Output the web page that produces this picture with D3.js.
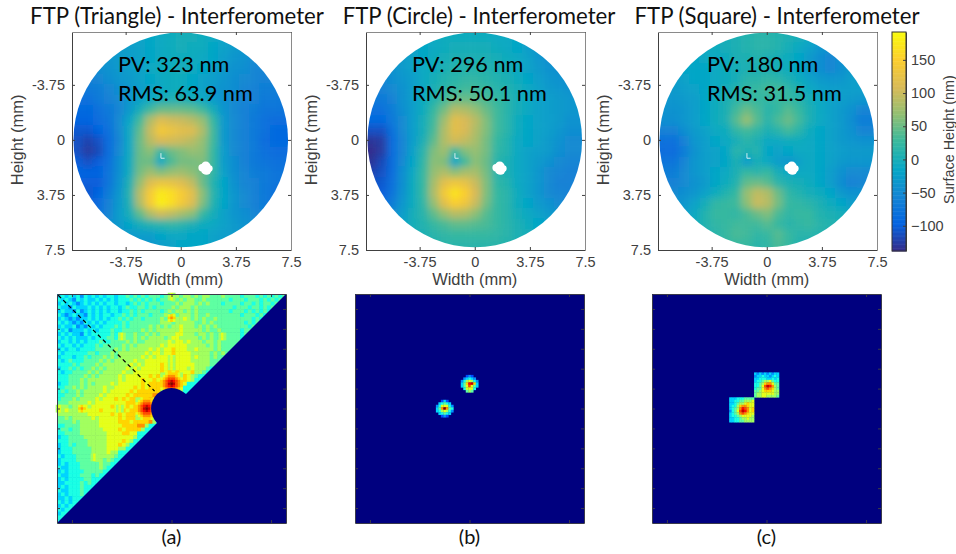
<!DOCTYPE html>
<html>
<head>
<meta charset="utf-8">
<script src="https://d3js.org/d3.v7.min.js"></script>
<style>
  body { margin: 0; background: #fff; }
  svg { display: block; }
</style>
</head>
<body>
<svg id="chart" width="956" height="554"></svg>
<script>
// surface height, nm, 21 x 21, top row first
var triangleHeights = [
  [-30,-30,-30,-30,-30,-25,-20,-15,-10,-5,0,0,-5,-10,-20,-25,-30,-35,-35,-35,-35],
  [-30,-30,-30,-30,-30,-25,-20,-15,-10,-5,0,-5,-5,-15,-20,-30,-35,-40,-45,-45,-45],
  [-35,-35,-35,-35,-30,-25,-20,-15,-10,-5,-5,-5,-10,-15,-25,-35,-40,-50,-50,-50,-50],
  [-50,-50,-45,-40,-30,-25,-20,-10,-5,-5,0,-5,-15,-20,-30,-40,-45,-55,-55,-55,-55],
  [-60,-60,-55,-45,-35,-30,-20,-15,-10,-5,-5,-15,-20,-25,-35,-45,-50,-55,-60,-60,-60],
  [-70,-70,-65,-55,-45,-35,-25,-20,-10,-5,-5,-15,-20,-30,-40,-45,-55,-60,-65,-65,-65],
  [-80,-80,-70,-60,-50,-35,-20,-10,0,5,5,0,-10,-25,-40,-50,-55,-60,-70,-70,-70],
  [-90,-90,-80,-70,-55,-30,0,30,50,50,50,45,30,0,-35,-50,-60,-65,-75,-75,-75],
  [-95,-95,-85,-75,-50,-15,30,85,115,105,100,90,70,25,-30,-50,-60,-70,-80,-85,-85],
  [-105,-105,-95,-80,-50,-10,45,100,140,130,120,115,85,30,-30,-50,-60,-70,-80,-90,-90],
  [-110,-120,-110,-85,-55,-10,50,90,110,105,100,90,70,30,-30,-50,-60,-70,-85,-90,-90],
  [-110,-125,-115,-85,-50,-10,50,65,20,50,60,70,65,25,-25,-50,-60,-70,-80,-85,-85],
  [-100,-110,-100,-80,-45,-5,50,50,-10,35,55,55,60,25,-25,-45,-60,-70,-75,-80,-80],
  [-95,-95,-95,-75,-45,-5,55,75,60,70,75,65,50,20,-20,-45,-55,-65,-70,-75,-75],
  [-100,-100,-100,-75,-40,5,70,115,130,125,115,95,50,10,-15,-40,-55,-60,-70,-75,-75],
  [-105,-105,-95,-65,-35,10,90,145,175,165,145,120,65,15,-15,-35,-50,-60,-70,-80,-80],
  [-100,-100,-85,-60,-30,5,85,145,180,165,140,115,60,10,-15,-35,-50,-60,-70,-75,-75],
  [-90,-90,-80,-55,-25,0,45,85,105,95,80,65,25,0,-20,-35,-45,-55,-60,-65,-65],
  [-75,-75,-60,-45,-30,-15,0,10,15,20,15,5,-5,-10,-20,-30,-40,-45,-50,-55,-55],
  [-60,-60,-50,-45,-35,-30,-25,-25,-15,-10,-10,-15,-15,-20,-25,-30,-35,-40,-45,-50,-50],
  [-40,-40,-40,-40,-40,-40,-35,-35,-25,-20,-15,-15,-15,-20,-25,-30,-35,-40,-40,-40,-40]
];
var circleHeights = [
  [-30,-30,-25,-20,-15,-10,-10,-5,-5,-5,-5,-5,-10,-10,-15,-25,-30,-35,-40,-40,-40],
  [-35,-35,-30,-25,-20,-15,-10,-5,0,0,0,0,-5,-10,-15,-25,-35,-45,-50,-50,-50],
  [-40,-40,-35,-30,-20,-15,-5,0,5,5,5,5,0,-5,-10,-20,-35,-45,-50,-50,-50],
  [-45,-45,-40,-30,-20,-10,-5,5,10,10,10,10,5,0,-10,-20,-30,-40,-45,-50,-50],
  [-55,-55,-45,-35,-25,-10,0,10,15,20,20,15,10,5,-5,-15,-25,-35,-40,-45,-45],
  [-60,-60,-50,-40,-25,-10,5,15,25,30,30,25,15,10,0,-10,-20,-30,-35,-40,-40],
  [-70,-70,-60,-40,-25,-5,10,30,50,50,45,35,25,15,0,-10,-20,-25,-30,-35,-35],
  [-80,-80,-65,-45,-25,-5,25,55,90,85,70,50,30,15,0,-10,-20,-25,-30,-35,-35],
  [-90,-90,-70,-50,-25,0,30,75,120,110,90,60,30,15,-5,-15,-20,-25,-30,-40,-40],
  [-110,-110,-80,-50,-25,0,35,85,120,110,85,60,30,15,-5,-15,-20,-25,-35,-45,-45],
  [-130,-125,-85,-55,-25,5,45,85,105,95,80,55,25,10,-10,-15,-20,-30,-40,-50,-50],
  [-135,-125,-85,-55,-20,15,60,75,25,60,70,55,20,10,-10,-20,-25,-30,-45,-50,-50],
  [-130,-115,-85,-50,-15,20,65,60,-15,30,65,50,15,5,-10,-20,-30,-40,-50,-55,-55],
  [-120,-110,-85,-45,-10,25,70,85,65,80,80,55,15,5,-10,-20,-35,-50,-55,-60,-60],
  [-110,-105,-80,-45,-5,25,80,120,135,125,100,60,20,10,-10,-20,-35,-50,-60,-60,-60],
  [-105,-100,-75,-40,-5,25,85,140,170,150,110,60,25,15,-5,-20,-35,-50,-55,-60,-60],
  [-95,-90,-65,-35,-5,20,70,120,150,135,100,55,25,15,-5,-15,-30,-40,-50,-55,-55],
  [-75,-70,-50,-25,0,15,45,70,90,85,65,40,25,15,0,-10,-20,-30,-35,-40,-40],
  [-55,-50,-35,-20,0,10,25,35,45,45,40,35,25,15,5,-5,-15,-20,-25,-30,-30],
  [-35,-35,-25,-15,0,5,15,20,25,25,25,25,20,15,5,0,-10,-15,-20,-25,-25],
  [-25,-25,-20,-10,0,5,10,15,15,15,15,15,15,10,5,0,-5,-10,-15,-20,-20]
];
var squareHeights = [
  [-10,-10,-10,-5,-5,0,0,5,10,15,15,10,5,0,-10,-20,-25,-30,-30,-30,-30],
  [-15,-15,-15,-10,-10,-5,0,5,10,15,15,10,0,-10,-20,-35,-40,-40,-35,-30,-30],
  [-15,-15,-15,-15,-10,-10,-5,5,5,10,5,0,-5,-15,-30,-45,-55,-45,-30,-25,-25],
  [-20,-20,-15,-15,-15,-10,-5,0,5,5,5,0,-5,-15,-30,-45,-55,-45,-30,-25,-25],
  [-25,-25,-20,-15,-15,-10,-5,0,15,15,20,15,5,-5,-20,-30,-35,-35,-25,-25,-25],
  [-30,-30,-25,-20,-15,-10,0,10,20,25,30,30,20,5,-10,-20,-25,-25,-25,-25,-25],
  [-35,-35,-30,-25,-15,-5,5,15,25,25,20,25,25,15,0,-10,-20,-25,-30,-35,-35],
  [-40,-40,-35,-25,-15,-5,5,30,50,35,15,25,40,25,5,-10,-20,-30,-40,-55,-55],
  [-45,-45,-35,-25,-15,-5,5,40,70,40,15,35,50,30,5,-10,-20,-30,-45,-65,-65],
  [-60,-60,-45,-30,-20,-10,-5,20,30,20,5,15,30,15,-5,-15,-20,-30,-40,-55,-55],
  [-80,-80,-60,-35,-25,-15,-10,0,15,5,-10,-10,-5,-5,-10,-15,-20,-30,-35,-40,-40],
  [-85,-85,-65,-40,-25,-20,-15,15,5,10,-15,-20,-15,-10,-10,-15,-20,-25,-30,-30,-30],
  [-75,-75,-55,-35,-25,-20,-15,5,-25,0,-10,-25,-35,-20,-10,-15,-20,-30,-35,-35,-35],
  [-65,-65,-50,-35,-25,-15,-10,5,25,15,25,0,-10,-10,-10,-15,-25,-40,-50,-50,-50],
  [-60,-60,-50,-40,-30,-15,-5,10,45,50,40,15,5,0,-5,-15,-25,-45,-60,-55,-50],
  [-50,-50,-45,-35,-20,-5,10,25,70,95,85,50,20,10,0,-5,-15,-30,-40,-40,-40],
  [-40,-40,-35,-20,0,20,25,30,65,100,90,55,25,20,15,5,-5,-15,-25,-30,-30],
  [-30,-30,-25,-10,10,25,25,20,35,50,60,35,20,25,25,10,5,0,-10,-15,-15],
  [-20,-20,-15,-5,10,20,25,30,30,30,40,25,15,20,25,15,10,5,-5,-10,-10],
  [-15,-15,-10,-5,5,15,25,35,30,20,25,40,25,15,15,10,5,0,-5,-10,-10],
  [-10,-10,-5,0,5,15,20,25,25,15,20,35,25,10,5,5,0,-5,-10,-10,-10]
];

var titles = ['FTP (Triangle) - Interferometer', 'FTP (Circle) - Interferometer', 'FTP (Square) - Interferometer'];
var pvLabels = ['PV: 323 nm', 'PV: 296 nm', 'PV: 180 nm'];
var rmsLabels = ['RMS: 63.9 nm', 'RMS: 50.1 nm', 'RMS: 31.5 nm'];
var captions = ['(a)', '(b)', '(c)'];
var mmTicks = [-3.75, 0, 3.75, 7.5];
var mmTickLabels = ['-3.75', '0', '3.75', '7.5'];
var colorTicks = [-100, -50, 0, 50, 100, 150];
var colorDomain = [-138, 192];
var parula = ['#352a87', '#0363e1', '#1485d4', '#06a7c6', '#38b99e', '#92bf73', '#d9ba56', '#fcce2e', '#f9fb0e'];

// missing patch on each map, mm: x, y, radius
var missingBlob = [
  [1.45, 1.9, 0.25], [1.7, 1.8, 0.33], [1.75, 2.05, 0.33], [1.95, 1.95, 0.22], [1.6, 2.1, 0.2]
];
// small white mark in the central dimple, mm
var dimpleMarkX = [-1.35, -1.35, -1.1];
var dimpleMarkY = [0.9, 1.25, 1.25];

// spectrum levels, 0-f on the jet map, one char per cell, 60 cells wide, top row first.
// the part under the diagonal is covered by the mask
var spectrumField = [
  '565656465656566566767676777677787887878877787777677767676767',
  '656546565565656566676767676777878788778777777677767776767677',
  '565654565656566566567676777677787888787877767777677676776767',
  '655465556565656656766776767777878887877777777767776776767666',
  '565546456565656656676767777678788787877777777677767676767666',
  '654565546565665667676777677787878887877877777777677767676666',
  '565454556565656676767767777878888987878778777777777676766666',
  '656545465656566667677777777888788888778787777777767676666666',
  '565564546565666767677777878787889888787878777777776766666666',
  '656455565656667667777787878888889888887877877777677666666666',
  '565655465666667677778778787888899888788787777777676666666666',
  '656565556566677677778787888878998888878787777777666666666666',
  '566565656667667777878778888889899898887887877777666666666666',
  '656656566676777778787888888989999988888787877776666666666666',
  '565665666677777878788888989899a99988988887877776666666666666',
  '656666667767778788888889899899a99998888878787666666666666666',
  '566656676777878788888898989999a99998988878776666666666666666',
  '656766677778787888889889999999a99998888877766666666666666666',
  '666676777787888888898989999a9aa99999888877666666666666666666',
  '566767677878788888989899999a9aa99989888766666666666666666666',
  '656677778787888889889999999a9a9a999a887666666666666666666666',
  '666777787878888898999999a9a9aaaa9a98766666666666666666666',
  '6667778788888888989999a99a9aaaaaaa986666666666666666',
  '5667778787888898999999a9aaaaaaaaa96666666666666',
  '66778787888898899999a9a9aaaabaaa966666666666',
  '6767787888889899999a9aaaaaabbaa8666666666',
  '667778788889899999a9aaaaabbbba86666666',
  '677787888898999a9a9aaaaabbbba96666666',
  '777888889899999999aaaaaabbbb986666666',
  '88878889899999a9a9a9aaaabbbbb86666666',
  '98988889999a99999a9aaaaabbbbb86666666',
  '88888888999999a9a9aaaabbbbb8666666',
  '7787888889899999a9aaaaaabba866666666',
  '7777878888899999aaa9aaaab8666666',
  '66777788888999999aaaabb8666666',
  '6776778888889999a9aaaa8666666',
  '667777888888899 99aa99666666'.split(' ').join(''),
  '566777788888899999998666666',
  '66677777888889999a986666666',
  '5667677788888999a9866666',
  '566677777888899988666666',
  '5666777778888988666666',
  '65666777778888876666',
  '566667777788787666',
  '5656667777787766666',
  '65566677777876666',
  '5656666777776666',
  '655666777676666',
  '56566667766666',
  '5566667676666',
  '565666766666',
  '65566676666',
  '5656667666',
  '556566666',
  '65656666',
  '5656666',
  '656666',
  '56666',
  '6666',
  '666'
];

var spotMain = ['889aaaa98', '89abbba98', '9abcccba9', 'abcdedcba', 'abcefecba', 'abcdedcba', '9abcccba9', '89abbba98', '889aaa988'];
var dotBright = ['9a9', 'aba', '9a9'];
var dotFaint = ['898', '898', '898'];
var circleSpotUpper = ['0034300', '0456540', '4689864', '57adea5', '579c975', '0699960', '0078700'];
var circleSpotLower = ['0035300', '0567650', '4699964', '57bfb76', '5689864', '0567650', '0034300'];
var squareUpper = ['5454545455', '4556554565', '5566655656', '5667889766', '6678abb977', '6679cedb87', '6779bcba87', '7789aaa988', '7889999988', '7889988887'];
var squareLower = ['5556667777', '5566778889', '5567889a99', '5668abba99', '5678bdcb9a', '4679cedb9a', '5678bcba99', '5667899998', '5566788988', '5566778888'];

// [levels, centre u, centre v] in spectrum units
var patchesA = [
  [spotMain, 0, -10], [spotMain, -10, 0],
  [dotBright, 0, -36.4], [dotFaint, 0, -20], [dotFaint, 0, -17], [dotFaint, 0, -45],
  [dotBright, -36, 0], [dotFaint, -20.8, 0], [dotFaint, -45, 0],
  [dotFaint, -20, -29], [dotFaint, 20.4, -29], [dotFaint, -31, 19.6]
];
var patchesB = [[circleSpotUpper, 0, -10], [circleSpotLower, -10, 0]];
var patchesC = [[squareUpper, 0, -9.5], [squareLower, -10, 0.5]];

var spectrumLeftTicks = [-40, -32, -24, -16, -8, 0, 8, 16, 24, 32, 40];
var spectrumBottomTicks = [-40, 0, 40];
var notchRadius = 8.2;
var dashedLineU = [-45.5, -6.8];
var dashedLineV = [-45.5, -7];

var svg = d3.select('#chart');
var axisColor = '#404040';
var mapTop = 32;
var mapBottom = 250;
var mapLefts = [72, 366, 658];
var mapWidth = 219;
var titleCentres = [177, 479, 777];
var noteLefts = [118, 412, 707];

var colorScale = d3
  .scaleLinear()
  .domain(parula.map((c, i) => colorDomain[0] + ((colorDomain[1] - colorDomain[0]) * i) / (parula.length - 1)))
  .range(parula);

var defs = svg.append('defs');
defs
  .append('filter')
  .attr('id', 'soften')
  .append('feGaussianBlur')
  .attr('stdDeviation', 3.6);
defs
  .append('filter')
  .attr('id', 'softenSpec')
  .append('feGaussianBlur')
  .attr('stdDeviation', 0.55);

function styleAxis(g) {
  g.select('.domain').attr('stroke', axisColor);
  g.selectAll('.tick line').attr('stroke', axisColor);
  g.selectAll('.tick text')
    .attr('fill', axisColor)
    .attr('font-family', '"Liberation Sans", Arial, sans-serif')
    .attr('font-size', '14.5px');
}

function drawMap(heights, idx) {
  var left = mapLefts[idx];
  var xScale = d3.scaleLinear().domain([-7.4, 7.5]).range([left, left + mapWidth]);
  var yScale = d3.scaleLinear().domain([-7.35, 7.5]).range([mapTop, mapBottom]);
  var colBand = d3.scaleBand().domain(d3.range(21)).range([left, left + mapWidth]);
  var rowBand = d3.scaleBand().domain(d3.range(21)).range([mapTop, mapBottom]);

  var clipId = 'disc' + idx;
  defs
    .append('clipPath')
    .attr('id', clipId)
    .append('circle')
    .attr('cx', xScale(0))
    .attr('cy', yScale(0))
    .attr('r', xScale(7.3) - xScale(0));

  var cellData = [];
  heights.forEach((row, j) => row.forEach((v, i) => cellData.push({ i: i, j: j, v: v })));

  var over = 16; // edge cells reach past the box so the blur stays opaque
  svg
    .append('g')
    .attr('clip-path', 'url(#' + clipId + ')')
    .append('g')
    .attr('filter', 'url(#soften)')
    .selectAll('rect')
    .data(cellData)
    .enter()
    .append('rect')
    .attr('x', (d) => colBand(d.i) - (d.i === 0 ? over : 0))
    .attr('y', (d) => rowBand(d.j) - (d.j === 0 ? over : 0))
    .attr('width', (d) => colBand.bandwidth() + 0.5 + (d.i === 0 || d.i === 20 ? over : 0))
    .attr('height', (d) => rowBand.bandwidth() + 0.5 + (d.j === 0 || d.j === 20 ? over : 0))
    .attr('fill', (d) => colorScale(d.v));

  svg
    .append('g')
    .selectAll('circle')
    .data(missingBlob)
    .enter()
    .append('circle')
    .attr('cx', (d) => xScale(d[0]))
    .attr('cy', (d) => yScale(d[1]))
    .attr('r', (d) => xScale(d[2]) - xScale(0))
    .attr('fill', '#fff');

  svg
    .append('path')
    .attr('d', d3.line().x((d) => xScale(d)).y((d, i) => yScale(dimpleMarkY[i]))(dimpleMarkX))
    .attr('fill', 'none')
    .attr('stroke', '#fff')
    .attr('stroke-width', 0.8);

  // frame with ticks on all four sides
  var tickFormat = (d) => mmTickLabels[mmTicks.indexOf(d)];
  svg
    .append('g')
    .attr('transform', 'translate(0,' + mapBottom + ')')
    .call(d3.axisBottom(xScale).tickValues(mmTicks).tickFormat(tickFormat).tickSizeInner(-3).tickSizeOuter(0).tickPadding(6.5))
    .call(styleAxis);
  svg
    .append('g')
    .attr('transform', 'translate(' + left + ',0)')
    .call(d3.axisLeft(yScale).tickValues(mmTicks).tickFormat(tickFormat).tickSizeInner(-3).tickSizeOuter(0).tickPadding(7))
    .call(styleAxis);
  svg
    .append('g')
    .attr('transform', 'translate(0,' + mapTop + ')')
    .call(d3.axisTop(xScale).tickValues(mmTicks).tickFormat('').tickSizeInner(-3).tickSizeOuter(0))
    .call(styleAxis)
    .select('.domain')
    .attr('stroke', '#8a8a8a');
  svg
    .append('g')
    .attr('transform', 'translate(' + (left + mapWidth) + ',0)')
    .call(d3.axisRight(yScale).tickValues(mmTicks).tickFormat('').tickSizeInner(-3).tickSizeOuter(0))
    .call(styleAxis)
    .select('.domain')
    .attr('stroke', '#8a8a8a');

  svg
    .append('text')
    .attr('x', xScale(0))
    .attr('y', 285)
    .attr('text-anchor', 'middle')
    .attr('fill', axisColor)
    .attr('font-family', '"Liberation Sans", Arial, sans-serif')
    .attr('font-size', '16.5px')
    .text('Width (mm)');
  svg
    .append('text')
    .attr('transform', 'translate(' + (left - 49) + ',' + yScale(0) + ') rotate(-90)')
    .attr('text-anchor', 'middle')
    .attr('fill', axisColor)
    .attr('font-family', '"Liberation Sans", Arial, sans-serif')
    .attr('font-size', '16.5px')
    .text('Height (mm)');

  svg
    .append('text')
    .attr('x', titleCentres[idx])
    .attr('y', 24)
    .attr('text-anchor', 'middle')
    .attr('fill', '#111')
    .attr('font-family', 'Lato, sans-serif')
    .attr('font-size', '22.2px')
    .text(titles[idx]);
  svg
    .append('text')
    .attr('x', noteLefts[idx])
    .attr('y', 72)
    .attr('fill', '#000')
    .attr('font-family', 'Lato, sans-serif')
    .attr('font-size', '21.7px')
    .text(pvLabels[idx]);
  svg
    .append('text')
    .attr('x', noteLefts[idx])
    .attr('y', 101)
    .attr('fill', '#000')
    .attr('font-family', 'Lato, sans-serif')
    .attr('font-size', '21.7px')
    .text(rmsLabels[idx]);
}

[triangleHeights, circleHeights, squareHeights].forEach(drawMap);

// colour bar
var barX = 892;
var barWidth = 14;
var barScale = d3.scaleLinear().domain(colorDomain).range([251, 32]);
var barSteps = d3.range(colorDomain[0], colorDomain[1], 2);
svg
  .append('g')
  .selectAll('rect')
  .data(barSteps)
  .enter()
  .append('rect')
  .attr('x', barX)
  .attr('width', barWidth)
  .attr('y', (d) => barScale(d + 2))
  .attr('height', (d) => barScale(d) - barScale(d + 2) + 0.5)
  .attr('fill', (d) => colorScale(d + 1));
svg
  .append('g')
  .attr('transform', 'translate(' + (barX + barWidth) + ',0)')
  .call(d3.axisRight(barScale).tickValues(colorTicks).tickSizeInner(-3).tickSizeOuter(0).tickPadding(5))
  .call(styleAxis);
svg
  .append('rect')
  .attr('x', barX)
  .attr('y', 32)
  .attr('width', barWidth)
  .attr('height', 219)
  .attr('fill', 'none')
  .attr('stroke', '#333');
svg
  .append('text')
  .attr('transform', 'translate(954,' + barScale(30) + ') rotate(-90)')
  .attr('text-anchor', 'middle')
  .attr('fill', axisColor)
  .attr('font-family', '"Liberation Sans", Arial, sans-serif')
  .attr('font-size', '14.4px')
  .text('Surface Height (nm)');

// spectra
var jet = d3
  .scaleLinear()
  .domain([0, 0.125, 0.375, 0.625, 0.875, 1])
  .range(['#00007f', '#0000ff', '#00ffff', '#ffff00', '#ff0000', '#7f0000']);
var levelScale = d3.scaleLinear().domain([0, 15]).range([0, 1]);
var specLefts = [57, 355, 652];
var specSize = 229;
var specTop = 294;

function drawPatch(g, uScale, vScale, levels, cu, cv) {
  var n = levels.length;
  var m = levels[0].length;
  var cells = [];
  levels.forEach((row, r) => {
    row.split('').forEach((ch, c) => {
      if (ch !== '0') cells.push({ r: r, c: c, level: parseInt(ch, 16) });
    });
  });
  g.append('g')
    .selectAll('rect')
    .data(cells)
    .enter()
    .append('rect')
    .attr('x', (d) => uScale(cu - m / 2 + d.c))
    .attr('y', (d) => vScale(cv - n / 2 + d.r))
    .attr('width', uScale(1) - uScale(0) + 0.3)
    .attr('height', vScale(1) - vScale(0) + 0.3)
    .attr('fill', (d) => jet(levelScale(d.level)));
}

function drawSpectrum(idx, patches) {
  var left = specLefts[idx];
  var uScale = d3.scaleLinear().domain([-46, 46]).range([left, left + specSize]);
  var vScale = d3.scaleLinear().domain([-46, 46]).range([specTop, specTop + specSize]);
  var g = svg.append('g');

  g.append('rect')
    .attr('x', uScale(-46))
    .attr('y', vScale(-46))
    .attr('width', specSize)
    .attr('height', specSize)
    .attr('fill', jet(0));

  var heat = g.append('g').attr('filter', 'url(#softenSpec)');

  if (idx === 0) {
    var cellBand = d3.scaleBand().domain(d3.range(60)).range([-46, 46]);
    var fieldCells = [];
    spectrumField.forEach((row, r) => {
      row.split('').forEach((ch, c) => {
        fieldCells.push({ r: r, c: c, level: parseInt(ch, 16) });
      });
    });
    heat
      .append('g')
      .selectAll('rect')
      .data(fieldCells)
      .enter()
      .append('rect')
      .attr('x', (d) => uScale(cellBand(d.c)))
      .attr('y', (d) => vScale(cellBand(d.r)))
      .attr('width', uScale(cellBand.bandwidth()) - uScale(0) + 0.6)
      .attr('height', vScale(cellBand.bandwidth()) - vScale(0) + 0.6)
      .attr('fill', (d) => jet(levelScale(d.level)));
  }

  patches.forEach((p) => drawPatch(heat, uScale, vScale, p[0], p[1], p[2]));

  if (idx === 0) {
    // blocked half plane and central notch
    g.append('path')
      .attr('d', d3.line().x((d) => uScale(d[0])).y((d) => vScale(d[1]))([[46, -46], [46, 46], [-46, 46]]) + 'Z')
      .attr('fill', jet(0));
    g.append('circle')
      .attr('cx', uScale(0))
      .attr('cy', vScale(0))
      .attr('r', uScale(notchRadius) - uScale(0))
      .attr('fill', jet(0));
    g.append('line')
      .attr('x1', uScale(dashedLineU[0]))
      .attr('y1', vScale(dashedLineV[0]))
      .attr('x2', uScale(dashedLineU[1]))
      .attr('y2', vScale(dashedLineV[1]))
      .attr('stroke', '#000')
      .attr('stroke-width', 1.2)
      .attr('stroke-dasharray', '4 3');
  }

  var frame = '#3a3a4a';
  g.append('g')
    .attr('transform', 'translate(0,' + (specTop + specSize) + ')')
    .call(d3.axisBottom(uScale).tickValues(spectrumBottomTicks).tickFormat('').tickSizeInner(-3).tickSizeOuter(0))
    .call((a) => a.selectAll('path,line').attr('stroke', frame));
  g.append('g')
    .attr('transform', 'translate(0,' + specTop + ')')
    .call(d3.axisTop(uScale).tickValues(spectrumBottomTicks).tickFormat('').tickSizeInner(-3).tickSizeOuter(0))
    .call((a) => a.selectAll('path,line').attr('stroke', frame));
  g.append('g')
    .attr('transform', 'translate(' + left + ',0)')
    .call(d3.axisLeft(vScale).tickValues(spectrumLeftTicks).tickFormat('').tickSizeInner(-3).tickSizeOuter(0))
    .call((a) => a.selectAll('path,line').attr('stroke', frame));
  g.append('g')
    .attr('transform', 'translate(' + (left + specSize) + ',0)')
    .call(d3.axisRight(vScale).tickValues(spectrumLeftTicks).tickFormat('').tickSizeInner(-3).tickSizeOuter(0))
    .call((a) => a.selectAll('path,line').attr('stroke', frame));

  svg
    .append('text')
    .attr('x', uScale(0))
    .attr('y', 544)
    .attr('text-anchor', 'middle')
    .attr('fill', '#111')
    .attr('font-family', 'Lato, sans-serif')
    .attr('font-size', '20px')
    .text(captions[idx]);
}

drawSpectrum(0, patchesA);
drawSpectrum(1, patchesB);
drawSpectrum(2, patchesC);
</script>
</body>
</html>
